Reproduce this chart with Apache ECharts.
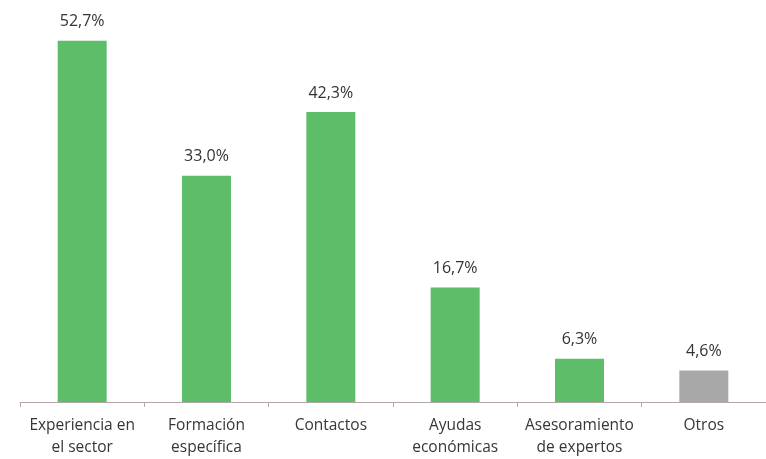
<!DOCTYPE html>
<html>
<head>
<meta charset="utf-8">
<script src="https://cdn.jsdelivr.net/npm/echarts@6/dist/echarts.min.js"></script>
<style>
  html, body { margin: 0; padding: 0; background: #ffffff; }
  #chart { width: 766px; height: 459px; }
</style>
</head>
<body>
<div id="chart"></div>
<script>
// Factors cited (%)
const categories = [
  'Experiencia en\nel sector',
  'Formación\nespecífica',
  'Contactos',
  'Ayudas\neconómicas',
  'Asesoramiento\nde expertos',
  'Otros'
];
const values = [52.7, 33.0, 42.3, 16.7, 6.3, 4.6];
const barColors = ['#5dbd68', '#5dbd68', '#5dbd68', '#5dbd68', '#5dbd68', '#a8a8a8'];

const chart = echarts.init(document.getElementById('chart'));
chart.setOption({
  backgroundColor: '#ffffff',
  animation: false,
  grid: { left: 20, top: 25, width: 753, bottom: 57, containLabel: false },
  xAxis: {
    type: 'category',
    data: categories,
    axisLine: { lineStyle: { color: '#b3a6a6', width: 1 } },
    axisTick: { show: true, interval: 0, length: 5, lineStyle: { color: '#b3a6a6' } },
    axisLabel: {
      interval: 0,
      hideOverlap: false,
      color: '#363636',
      fontFamily: '"Open Sans", sans-serif',
      fontSize: 15.5,
      lineHeight: 22,
      margin: 13
    }
  },
  yAxis: {
    type: 'value',
    min: 0,
    max: 55,
    show: false,
    splitLine: { show: false }
  },
  series: [{
    type: 'bar',
    barWidth: 49,
    data: values.map((v, i) => ({ value: v, itemStyle: { color: barColors[i] } })),
    label: {
      show: true,
      position: 'top',
      distance: 11,
      color: '#333333',
      fontFamily: '"Open Sans", sans-serif',
      fontSize: 16,
      formatter: p => p.value.toFixed(1).replace('.', ',') + '%'
    }
  }]
});
</script>
</body>
</html>
